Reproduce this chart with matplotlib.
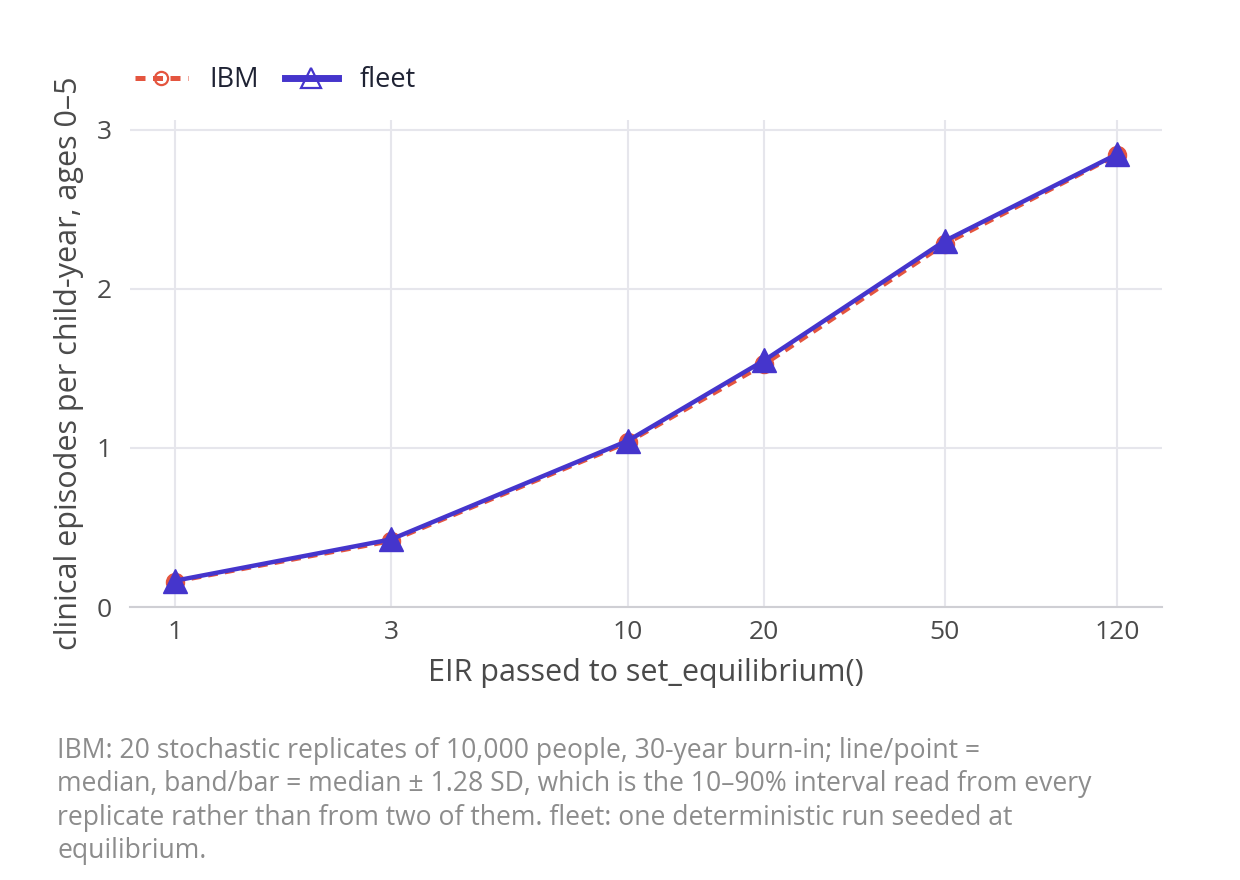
import matplotlib.pyplot as plt
from matplotlib.lines import Line2D
from matplotlib.ticker import FixedLocator, NullLocator

plt.rcParams['font.family'] = ['Open Sans', 'DejaVu Sans']

# data
eir = [1, 3, 10, 20, 50, 120]
ibm_episodes = [0.16, 0.415, 1.035, 1.525, 2.28, 2.84]
fleet_episodes = [0.165, 0.425, 1.045, 1.55, 2.30, 2.845]
y_ticks = [0, 1, 2, 3]

IBM_COLOR = "#E4553F"
FLEET_COLOR = "#4535CC"
GRID = "#E6E6EC"
TEXT = "#4A4A4A"

caption = ("IBM: 20 stochastic replicates of 10,000 people, 30-year burn-in; line/point =\n"
           "median, band/bar = median \u00b1 1.28 SD, which is the 10\u201390% interval read from every\n"
           "replicate rather than from two of them. fleet: one deterministic run seeded at\n"
           "equilibrium.")

fig = plt.figure(figsize=(12.4, 8.8), dpi=100)
ax = fig.add_axes([0.1048, 0.3102, 0.8323, 0.5534])

ax.plot(eir, ibm_episodes, color=IBM_COLOR, lw=3.2, ls=(0, (2.2, 1.6)),
        marker="o", ms=13, zorder=3)
ax.plot(eir, fleet_episodes, color=FLEET_COLOR, lw=3.2, ls="-",
        marker="^", ms=17, zorder=4)

ax.set_xscale("log")
ax.set_xlim(0.796, 150.9)
ax.set_ylim(0, 3.06)
ax.xaxis.set_major_locator(FixedLocator(eir))
ax.xaxis.set_minor_locator(NullLocator())
ax.set_xticklabels([str(v) for v in eir])
ax.set_yticks(y_ticks)

ax.grid(True, color=GRID, lw=1.5)
ax.set_axisbelow(True)
for s in ["top", "right", "left"]:
    ax.spines[s].set_visible(False)
ax.spines["bottom"].set_color("#CFCFD4")
ax.spines["bottom"].set_linewidth(1.5)
ax.tick_params(length=0, labelsize=19, colors=TEXT)
ax.tick_params(axis="x", pad=9)
ax.tick_params(axis="y", pad=13)

ax.set_xlabel("EIR passed to set_equilibrium()", fontsize=22, color=TEXT, labelpad=10)
ax.set_ylabel("clinical episodes per child-year, ages 0\u20135", fontsize=22,
              color=TEXT)
ax.yaxis.set_label_coords(-0.045, 0.5)

handles = [
    Line2D([], [], color=IBM_COLOR, lw=3.6, ls=(0, (2.0, 1.5)), marker="o",
           ms=9.5, mfc="none", mew=1.6),
    Line2D([], [], color=FLEET_COLOR, lw=5, ls="-", marker="^",
           ms=14, mfc="none", mew=1.6),
]
fig.legend(handles, ["IBM", "fleet"], loc="center left", bbox_to_anchor=(0.098, 0.909),
           ncol=2, frameon=False, fontsize=19.5, handlelength=1.95, columnspacing=0.95,
           handletextpad=0.8, labelcolor="#1E2233", borderpad=0)

fig.text(0.046, 0.162, caption, fontsize=19.1, color="#8C8C8C", va="top",
         linespacing=1.24)

fig.savefig("out.png", dpi=100)
